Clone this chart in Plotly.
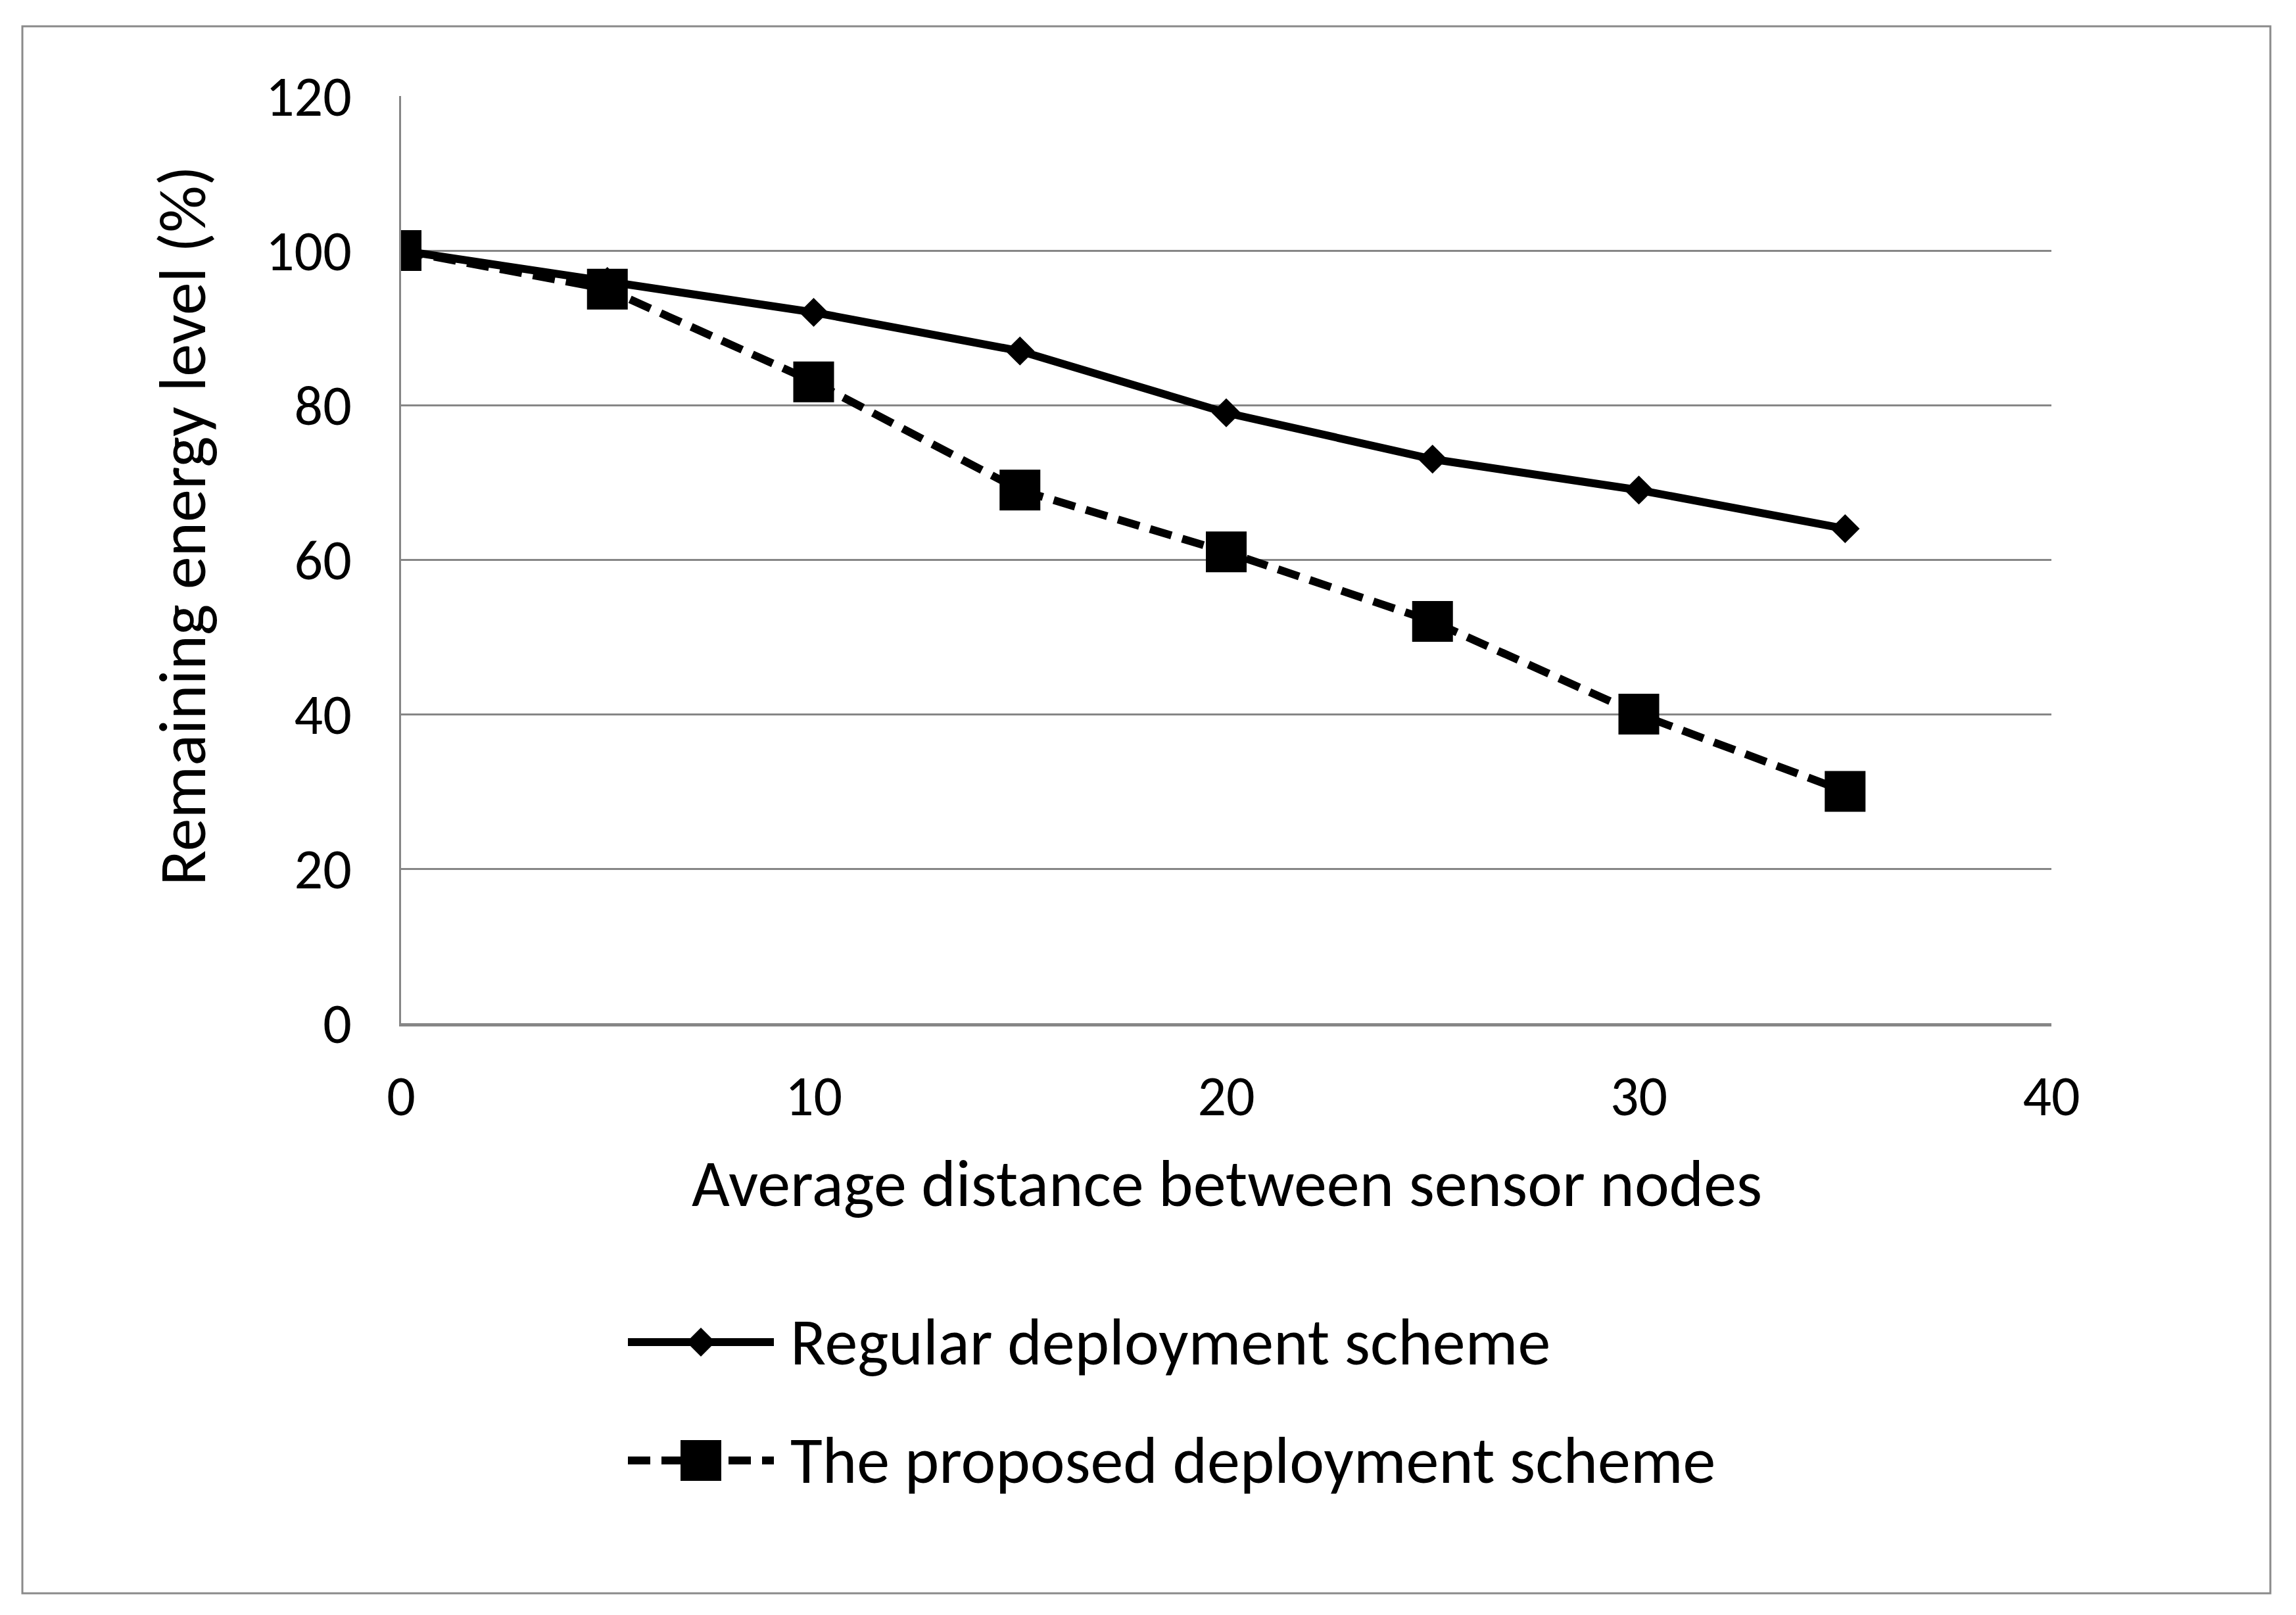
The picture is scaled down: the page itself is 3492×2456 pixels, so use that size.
import plotly.graph_objects as go

distance = [0, 5, 10, 15, 20, 25, 30, 35]
regular = [100, 96, 92, 87, 79, 73, 69, 64]
proposed = [100, 95, 83, 69, 61, 52, 40, 30]
series_names = ["Regular deployment scheme", "The proposed deployment scheme"]
x_title = "Average distance between sensor nodes"
y_title = "Remaining energy level (%)"

OFF = 8  # browser body margin
W, H = 3492 - OFF, 2456 - OFF
L, R, T, B = 610 - OFF, 372, 146 - OFF, 900
PW, PH = W - L - R, H - T - B
FONT = "Carlito, Calibri, Lato, sans-serif"
GRID = "#868686"


def px(x):
    return (x - OFF - L) / PW


def py(y):
    return (H - B - (y - OFF)) / PH


fig = go.Figure()
fig.add_trace(go.Scatter(x=distance, y=proposed, mode="lines",
                         line=dict(color="black", width=12, dash="34px,17px"),
                         showlegend=False, hoverinfo="skip"))
fig.add_trace(go.Scatter(x=distance, y=regular, mode="lines+markers", name=series_names[0],
                         line=dict(color="black", width=12),
                         marker=dict(symbol="diamond", size=34, color="black"),
                         showlegend=False))
fig.add_trace(go.Scatter(x=distance, y=proposed, mode="markers", name=series_names[1],
                         marker=dict(symbol="square", size=62, color="black"),
                         showlegend=False))

shapes = []
annotations = []
# outer border
shapes.append(dict(type="rect", xref="paper", yref="paper",
                   x0=px(34), x1=px(3453), y0=py(40), y1=py(2423),
                   line=dict(color="#8a8a8a", width=3), fillcolor="rgba(0,0,0,0)", layer="below"))

# custom legend
rows = [(2041, "solid", "diamond"), (2221, "34px,17px", "square")]
lx0, lx1, tx = 955, 1177, 1200
for (cy, dash, sym), name in zip(rows, series_names):
    shapes.append(dict(type="line", xref="paper", yref="paper",
                       x0=px(lx0), x1=px(lx1), y0=py(cy), y1=py(cy),
                       line=dict(color="black", width=12, dash=dash)))
    cx = (lx0 + lx1) / 2
    if sym == "diamond":
        h = 22
        path = "M {},{} L {},{} L {},{} L {},{} Z".format(
            px(cx), py(cy - h), px(cx + h), py(cy), px(cx), py(cy + h), px(cx - h), py(cy))
        shapes.append(dict(type="path", xref="paper", yref="paper", path=path,
                           fillcolor="black", line=dict(color="black", width=0)))
    else:
        h = 31
        shapes.append(dict(type="rect", xref="paper", yref="paper",
                           x0=px(cx - h), x1=px(cx + h), y0=py(cy + h), y1=py(cy - h),
                           fillcolor="black", line=dict(color="black", width=0)))
    annotations.append(dict(xref="paper", yref="paper", x=px(tx), y=py(cy),
                            xanchor="left", yanchor="middle", showarrow=False,
                            text=name, font=dict(family=FONT, size=100, color="black")))

annotations.append(dict(xref="paper", yref="paper", x=px(1866), y=py(1800),
                        xanchor="center", yanchor="middle", showarrow=False,
                        text=x_title, font=dict(family=FONT, size=100, color="black")))
annotations.append(dict(xref="paper", yref="paper", x=px(278), y=py(800),
                        xanchor="center", yanchor="middle", showarrow=False, textangle=-90,
                        text=y_title, font=dict(family=FONT, size=100, color="black")))

fig.update_layout(
    width=W, height=H,
    margin=dict(l=L, r=R, t=T, b=B, pad=0),
    paper_bgcolor="white", plot_bgcolor="white",
    showlegend=False,
    shapes=shapes, annotations=annotations,
    font=dict(family=FONT, size=86, color="black"),
    xaxis=dict(range=[0, 40], tickvals=[0, 10, 20, 30, 40], showgrid=False, zeroline=False,
               showline=True, linecolor=GRID, linewidth=5, ticks="", ticklabelstandoff=32,
               tickfont=dict(family=FONT, size=86, color="black")),
    yaxis=dict(range=[0, 120], tickvals=[0, 20, 40, 60, 80, 100, 120], showgrid=True,
               gridcolor=GRID, gridwidth=3, zeroline=False,
               showline=True, linecolor=GRID, linewidth=3, ticks="", ticklabelstandoff=55,
               tickfont=dict(family=FONT, size=86, color="black")),
)

fig.write_html("out.html")
